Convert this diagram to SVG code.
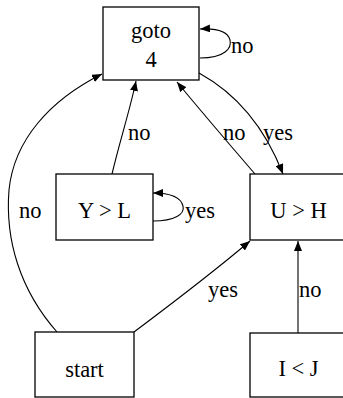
<svg xmlns="http://www.w3.org/2000/svg" width="343" height="398" viewBox="0 0 343 398">
  <style>
    .box { fill: #fff; stroke: #000; stroke-width: 1.3; }
    .edge { fill: none; stroke: #000; stroke-width: 1.1; }
    .t { font-family: 'Liberation Serif', 'DejaVu Serif', 'Times New Roman', Times, serif; font-size: 22.5px; fill: #000; }
    .c { text-anchor: middle; }
  </style>
  <defs>
    <marker id="arrow" viewBox="0 0 10 8" refX="10" refY="4" markerWidth="10" markerHeight="8" markerUnits="userSpaceOnUse" orient="auto">
      <path d="M0,0 L10,4 L0,8 Z" fill="#000"/>
    </marker>
  </defs>
  <rect width="343" height="398" fill="#fff"/>

  <g id="connectors">
    <!-- goto 4 self loop -->
    <path class="edge" d="M200,58 C225,58 232,48 230,40 C228,32 218,28 200,29" marker-end="url(#arrow)"/>
    <!-- goto 4 -> U > H -->
    <path class="edge" d="M199,73 C230,90 262,120 283,174" marker-end="url(#arrow)"/>
    <!-- U > H -> goto 4 -->
    <path class="edge" d="M255,174 C230,145 200,110 177,82" marker-end="url(#arrow)"/>
    <!-- Y > L -> goto 4 -->
    <path class="edge" d="M112,174 C120,140 130,110 136,81" marker-end="url(#arrow)"/>
    <!-- Y > L self loop -->
    <path class="edge" d="M153,221 C175,221 185,214 183,206 C181,198 172,193 153,193" marker-end="url(#arrow)"/>
    <!-- start -> goto 4 -->
    <path class="edge" d="M57,332 C20,290 5,240 9,190 C14,140 50,100 102,74" marker-end="url(#arrow)"/>
    <!-- start -> U > H -->
    <path class="edge" d="M134,332 C170,305 210,275 250,241" marker-end="url(#arrow)"/>
    <!-- I < J -> U > H -->
    <path class="edge" d="M298,333 L298,241" marker-end="url(#arrow)"/>
    <g class="t">
      <text x="231" y="53">no</text>
      <text x="263" y="140">yes</text>
      <text x="223" y="140">no</text>
      <text x="128" y="140">no</text>
      <text x="185" y="218">yes</text>
      <text x="19" y="218">no</text>
      <text x="208" y="297">yes</text>
      <text x="299" y="297">no</text>
    </g>
  </g>

  <g id="node-goto" class="t">
    <rect class="box" x="103" y="7" width="96" height="73"/>
    <text class="c" x="151" y="38">goto</text>
    <text class="c" x="151" y="67">4</text>
  </g>
  <g id="node-yl" class="t">
    <rect class="box" x="56" y="174" width="97" height="66"/>
    <text class="c" x="104.5" y="218">Y &gt; L</text>
  </g>
  <g id="node-uh" class="t">
    <rect class="box" x="250" y="174" width="97" height="66"/>
    <text class="c" x="298.5" y="218">U &gt; H</text>
  </g>
  <g id="node-start" class="t">
    <rect class="box" x="35" y="332" width="99" height="65"/>
    <text class="c" x="84.5" y="377">start</text>
  </g>
  <g id="node-ij" class="t">
    <rect class="box" x="250" y="333" width="97" height="64"/>
    <text class="c" x="298.5" y="376">I &lt; J</text>
  </g>
</svg>
